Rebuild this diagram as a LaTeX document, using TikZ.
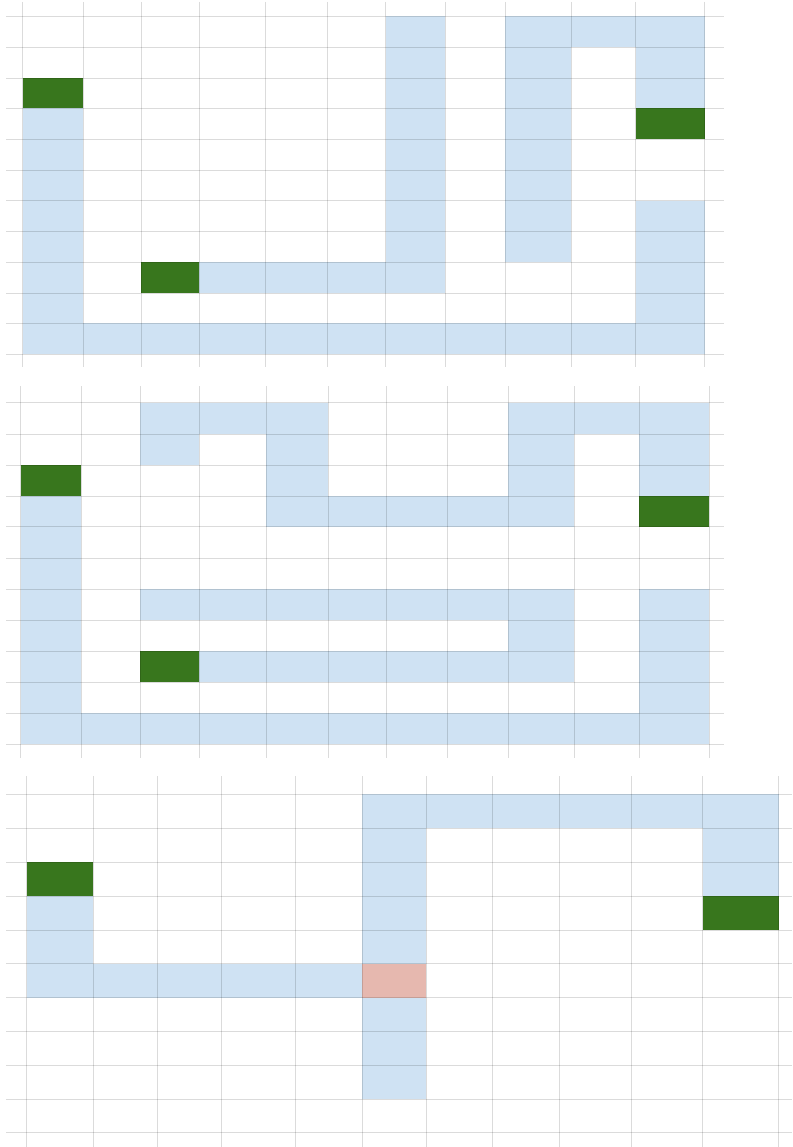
\documentclass[tikz,border=0pt]{standalone}
\usepackage{xcolor}
\usepackage{tikz}
\definecolor{PathBlue}{HTML}{CFE2F3}
\definecolor{PortGreen}{HTML}{38761D}
\definecolor{ClashRed}{HTML}{E6B8AF}
\tikzset{
  route/.style={fill=PathBlue},
  port/.style={fill=PortGreen},
  clash/.style={fill=ClashRed},
  gridline/.style={draw=black, draw opacity=0.14, line width=0.9pt}
}

\begin{document}
\begin{tikzpicture}[x=1pt, y=-1pt]
  \useasboundingbox (0,0) rectangle (792,1147);

  % first board
  \fill[route] (22.7,108.3) rectangle (83,323.3);
  \fill[route] (22.7,323.3) rectangle (704.7,354.3);
  \fill[route] (199.3,262.3) rectangle (385.7,293);
  \fill[route] (385.7,16) rectangle (445.3,293);
  \fill[route] (505.3,16) rectangle (571.3,262.3);
  \fill[route] (571.3,16) rectangle (635.7,47.3);
  \fill[route] (635.7,16) rectangle (704.7,108.3);
  \fill[route] (635.7,200.7) rectangle (704.7,323.3);
  \fill[port] (22.7,78) rectangle (83,108.3);
  \fill[port] (141.3,262.3) rectangle (199.3,293);
  \fill[port] (635.7,108.3) rectangle (704.7,139.3);
  \foreach \y in {16,47.3,78,108.3,139.3,170,200.7,231.3,262.3,293,323.3,354.3}
    \draw[gridline] (6,\y) -- (723.7,\y);
  \foreach \x in {22.7,83,141.3,199.3,265.7,327.3,385.7,445.3,505.3,571.3,635.7,704.7}
    \draw[gridline] (\x,2) -- (\x,367);

  % second board
  \fill[route] (20.7,496) rectangle (81.3,713);
  \fill[route] (20.7,713) rectangle (709.3,744.3);
  \fill[route] (140,402.7) rectangle (199,465);
  \fill[route] (199,402.7) rectangle (266,434);
  \fill[route] (266,402.7) rectangle (328,526.7);
  \fill[route] (328,496) rectangle (508,526.7);
  \fill[route] (508,402.7) rectangle (574.3,526.7);
  \fill[route] (574.3,402.7) rectangle (639.3,434);
  \fill[route] (639.3,402.7) rectangle (709.3,496);
  \fill[route] (639.3,589) rectangle (709.3,713);
  \fill[route] (140,589) rectangle (574.3,620);
  \fill[route] (508,620) rectangle (574.3,651);
  \fill[route] (199,651) rectangle (574.3,682);
  \fill[port] (20.7,465) rectangle (81.3,496);
  \fill[port] (639.3,496) rectangle (709.3,526.7);
  \fill[port] (140,651) rectangle (199,682);
  \foreach \y in {402.7,434,465,496,526.7,558,589,620,651,682,713,744.3}
    \draw[gridline] (6,\y) -- (723.7,\y);
  \foreach \x in {20.7,81.3,140,199,266,328,386.7,447.3,508,574.3,639.3,709.3}
    \draw[gridline] (\x,386) -- (\x,757.7);

  % third board
  \fill[route] (26.7,896) rectangle (93.3,963.7);
  \fill[route] (26.7,963.7) rectangle (362.3,997.7);
  \fill[route] (362.3,794.3) rectangle (426,963.7);
  \fill[route] (362.3,997.7) rectangle (426,1099.3);
  \fill[route] (426,794.3) rectangle (778.7,828.3);
  \fill[route] (702.7,828.3) rectangle (778.7,896);
  \fill[clash] (362.3,963.7) rectangle (426,997.7);
  \fill[port] (26.7,862.3) rectangle (93.3,896);
  \fill[port] (702.7,896) rectangle (778.7,930);
  \foreach \y in {794.3,828.3,862.3,896,930,963.7,997.7,1031.7,1065.3,1099.3,1132.7}
    \draw[gridline] (6,\y) -- (792,\y);
  \foreach \x in {26.7,93.3,157.3,221.3,295,362.3,426,492.7,559.3,631.3,702.7,778.7}
    \draw[gridline] (\x,776) -- (\x,1147);
\end{tikzpicture}
\end{document}
